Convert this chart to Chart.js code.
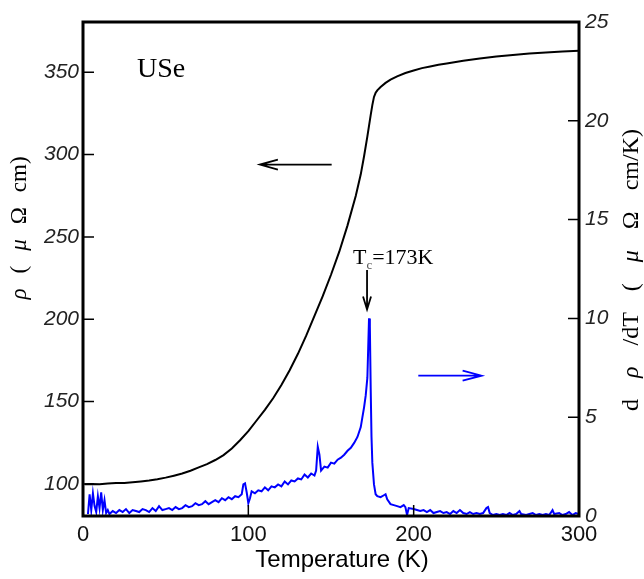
<!DOCTYPE html>
<html>
<head>
<meta charset="utf-8">
<title>USe resistivity</title>
<script src="https://cdn.jsdelivr.net/npm/chart.js@4.4.1/dist/chart.umd.min.js"></script>
<style>
  html, body { margin: 0; padding: 0; background: #fff; }
  #wrap { width: 644px; height: 579px; }
</style>
</head>
<body>
<div id="wrap"><canvas id="chart" width="644" height="579"></canvas></div>
<script>
// Resistivity rho(T), left axis (micro-ohm cm)
const rhoTemp = [1, 5, 10, 15, 20, 25, 30, 35, 40, 45, 50, 55, 60, 65, 70, 75, 80, 85, 90, 95,
  100, 105, 110, 115, 120, 125, 130, 135, 140, 145, 150, 155, 160, 165, 168, 170, 172, 174, 175, 176,
  177, 178, 180, 183, 186, 190, 195, 200, 205, 210, 215, 220, 230, 240, 250, 260, 270, 280, 290, 300];
const rhoValue = [99.8, 99.9, 99.8, 100.3, 100.5, 100.6, 101, 101.5, 102, 102.8, 103.8, 105, 106.3, 108, 110, 112, 114.5, 117.5, 121.5, 126.5,
  132, 138.5, 145, 152, 160, 169, 179, 190, 202, 214, 227, 241, 257, 275, 288, 299, 311, 324, 330, 335,
  337.5, 339, 341, 343.5, 345.5, 347.5, 349.5, 351, 352.5, 353.5, 354.5, 355.3, 357, 358.3, 359.5, 360.5, 361.3, 362, 362.6, 363];

// Derivative d rho / dT, right axis (micro-ohm cm / K)
const derivTemp = [3, 4, 5, 6, 7, 8, 9, 10, 11, 12, 13, 14, 15, 16, 18, 20, 22, 24, 26, 28,
  30, 32, 34, 36, 38, 40, 42, 44, 46, 48, 50, 52, 54, 56, 58, 60, 62, 64, 66, 68,
  70, 72, 74, 76, 78, 80, 82, 84, 86, 88, 90, 92, 94, 96, 97, 98, 99, 100, 101, 102,
  104, 106, 108, 110, 112, 114, 116, 118, 120, 122, 124, 126, 128, 130, 132, 134, 136, 138, 140, 141,
  142, 143, 144, 146, 148, 150, 152, 154, 156, 158, 160, 162, 164, 166, 168, 169, 170, 171, 172, 172.5,
  173, 173.5, 174, 174.5, 175, 176, 177, 178, 180, 182, 183, 184, 186, 188, 190, 192, 194, 195, 196, 197,
  200, 202, 204, 206, 208, 210, 212, 214, 216, 218, 220, 222, 224, 226, 228, 230, 232, 234, 236, 238,
  240, 242, 244, 245, 246, 248, 250, 252, 254, 256, 258, 260, 262, 264, 265, 268, 270, 272, 274, 276,
  278, 280, 282, 284, 285, 288, 290, 292, 294, 296, 298, 300];
const derivValue = [0.1, 1.1, 0.3, 1.15, 0.5, 0.2, 1.0, 0.4, 1.2, 0.3, 0.8, 0.15, 0.3, 0.1, 0.25, 0.15, 0.3, 0.2, 0.35, 0.15,
  0.3, 0.25, 0.2, 0.35, 0.3, 0.2, 0.4, 0.25, 0.5, 0.3, 0.35, 0.4, 0.3, 0.45, 0.35, 0.4, 0.55, 0.45, 0.5, 0.65,
  0.55, 0.6, 0.75, 0.6, 0.7, 0.8, 0.7, 0.9, 0.8, 0.95, 0.85, 1.0, 0.95, 1.1, 1.6, 1.65, 1.2, 0.65, 0.9, 1.25,
  1.15, 1.3, 1.25, 1.45, 1.3, 1.5, 1.45, 1.6, 1.5, 1.75, 1.6, 1.8, 1.75, 1.9, 1.85, 2.1, 1.95, 2.15, 2.05, 2.3,
  3.5, 3.1, 2.3, 2.5, 2.45, 2.7, 2.65, 2.85, 2.95, 3.1, 3.3, 3.45, 3.7, 4.0, 4.5, 5.0, 5.5, 6.1, 7.0, 8.5,
  10.0, 9.6, 6.5, 4.0, 2.7, 1.6, 1.1, 1.0, 0.95, 1.05, 1.1, 0.85, 0.6, 0.55, 0.5, 0.45, 0.55, 0.45, 0.05, 0.4,
  0.35, 0.3, 0.25, 0.3, 0.2, 0.3, 0.15, 0.2, 0.25, 0.15, 0.2, 0.1, 0.25, 0.15, 0.3, 0.15, 0.1, 0.2, 0.1, 0.15,
  0.1, 0.15, 0.4, 0.45, 0.15, 0.05, 0.1, 0.05, 0.1, 0.05, 0.15, 0.05, 0.1, 0.25, 0.1, 0.05, 0.1, 0.15, 0.05, 0.1,
  0.05, 0.1, 0.05, 0.3, 0.1, 0.15, 0.05, 0.1, 0.2, 0.05, 0.15, 0.1];

// Tick labels
const xTicks = [0, 100, 200, 300];
const leftTicks = [100, 150, 200, 250, 300, 350];
const rightTicks = [0, 5, 10, 15, 20, 25];

const serif = '"Liberation Serif", "DejaVu Serif", serif';
const sans = '"Liberation Sans", Arial, sans-serif';

// Arrow with an open V head, drawn in pixel space
function arrow(ctx, x1, y1, x2, y2, headLen, headHalf, color) {
  const ang = Math.atan2(y2 - y1, x2 - x1);
  const bx = x2 - headLen * Math.cos(ang);
  const by = y2 - headLen * Math.sin(ang);
  const nx = -Math.sin(ang) * headHalf;
  const ny = Math.cos(ang) * headHalf;
  ctx.save();
  ctx.strokeStyle = color;
  ctx.lineWidth = 1.8;
  ctx.beginPath();
  ctx.moveTo(x1, y1);
  ctx.lineTo(x2, y2);
  ctx.moveTo(bx + nx, by + ny);
  ctx.lineTo(x2, y2);
  ctx.lineTo(bx - nx, by - ny);
  ctx.stroke();
  ctx.restore();
}

// Rotated title made of pieces with wide gaps (greek letters italic)
function verticalTitle(ctx, cx, cy, parts, size, gap) {
  const fontOf = p => (p.it ? 'italic ' : '') + size + 'px ' + serif;
  let total = 0;
  parts.forEach((p, i) => {
    ctx.font = fontOf(p);
    total += ctx.measureText(p.t).width + (i ? gap : 0);
  });
  ctx.save();
  ctx.translate(cx, cy);
  ctx.rotate(-Math.PI / 2);
  ctx.textAlign = 'left';
  ctx.textBaseline = 'middle';
  let pos = -total / 2;
  parts.forEach(p => {
    ctx.font = fontOf(p);
    ctx.fillText(p.t, pos, 0);
    pos += ctx.measureText(p.t).width + gap;
  });
  ctx.restore();
}

// Frame, inward ticks, titles and annotations
const decorations = {
  id: 'decorations',
  afterDraw(chart) {
    const { ctx, chartArea: a, scales } = chart;
    const x = scales.x, yl = scales.y, yr = scales.y2;
    ctx.save();

    // inward ticks
    ctx.strokeStyle = '#000';
    ctx.lineWidth = 1.5;
    ctx.beginPath();
    xTicks.forEach(v => {
      const px = x.getPixelForValue(v);
      ctx.moveTo(px, a.bottom); ctx.lineTo(px, a.bottom - 11);
    });
    leftTicks.forEach(v => {
      const py = yl.getPixelForValue(v);
      ctx.moveTo(a.left, py); ctx.lineTo(a.left + 11, py);
    });
    rightTicks.forEach(v => {
      const py = yr.getPixelForValue(v);
      ctx.moveTo(a.right, py); ctx.lineTo(a.right - 11, py);
    });
    ctx.stroke();

    // frame
    ctx.lineWidth = 3;
    ctx.strokeRect(a.left, a.top, a.right - a.left, a.bottom - a.top);

    // axis titles
    ctx.fillStyle = '#000';
    ctx.textAlign = 'center';
    ctx.textBaseline = 'middle';
    ctx.font = '24px ' + sans;
    ctx.fillText('Temperature (K)', 342, 560);

    verticalTitle(ctx, 20, 228, [
      { t: 'ρ', it: true }, { t: '(' }, { t: 'μ', it: true }, { t: 'Ω' }, { t: 'cm)' }
    ], 23, 15);
    verticalTitle(ctx, 632, 270, [
      { t: 'd' }, { t: 'ρ', it: true }, { t: '/dT' }, { t: '(' }, { t: 'μ', it: true }, { t: 'Ω' }, { t: 'cm/K)' }
    ], 24, 21);

    // sample label
    ctx.textAlign = 'left';
    ctx.textBaseline = 'alphabetic';
    ctx.font = '28px ' + serif;
    ctx.fillText('USe', x.getPixelForValue(32.7), yl.getPixelForValue(347));

    // Tc label
    let tx = x.getPixelForValue(163.3);
    const ty = yr.getPixelForValue(12.75);
    ctx.font = '22px ' + serif;
    ctx.fillText('T', tx, ty);
    tx += ctx.measureText('T').width;
    ctx.font = '13px ' + serif;
    ctx.fillStyle = '#555';
    ctx.fillText('c', tx, ty + 5);
    tx += ctx.measureText('c').width;
    ctx.font = '22px ' + serif;
    ctx.fillStyle = '#000';
    ctx.fillText('=173K', tx, ty);

    // arrows
    arrow(ctx, x.getPixelForValue(150.4), yl.getPixelForValue(293.9),
      x.getPixelForValue(107), yl.getPixelForValue(293.9), 18, 5, '#000');
    arrow(ctx, x.getPixelForValue(202.8), yr.getPixelForValue(7.1),
      x.getPixelForValue(241.1), yr.getPixelForValue(7.1), 19, 5, '#0000ff');
    arrow(ctx, x.getPixelForValue(171.8), yr.getPixelForValue(12.45),
      x.getPixelForValue(171.8), yr.getPixelForValue(10.45), 13, 4, '#000');

    ctx.restore();
  }
};

const ctx = document.getElementById('chart').getContext('2d');
new Chart(ctx, {
  type: 'line',
  data: {
    datasets: [
      {
        label: 'rho',
        data: rhoTemp.map((t, i) => ({ x: t, y: rhoValue[i] })),
        yAxisID: 'y',
        borderColor: '#000',
        borderWidth: 2,
        pointRadius: 0,
        tension: 0
      },
      {
        label: 'drho/dT',
        data: derivTemp.map((t, i) => ({ x: t, y: derivValue[i] })),
        yAxisID: 'y2',
        borderColor: '#0000ff',
        borderWidth: 2,
        pointRadius: 0,
        tension: 0
      }
    ]
  },
  options: {
    responsive: false,
    animation: false,
    layout: { padding: { top: 22, left: 0, right: 0, bottom: 0 } },
    plugins: { legend: { display: false }, tooltip: { enabled: false } },
    scales: {
      x: {
        type: 'linear',
        min: 0,
        max: 300,
        afterBuildTicks: s => { s.ticks = xTicks.map(v => ({ value: v })); },
        afterFit: s => { s.height = 63; },
        grid: { display: false, drawTicks: false },
        border: { display: false },
        ticks: { color: '#111', padding: 6, font: { family: sans, size: 22 } }
      },
      y: {
        position: 'left',
        min: 80.5,
        max: 380.5,
        afterBuildTicks: s => { s.ticks = leftTicks.map(v => ({ value: v })); },
        afterFit: s => { s.width = 83; },
        grid: { display: false, drawTicks: false },
        border: { display: false },
        ticks: { color: '#222', padding: 4, font: { family: sans, size: 21, style: 'italic' } }
      },
      y2: {
        position: 'right',
        min: 0,
        max: 25,
        afterBuildTicks: s => { s.ticks = rightTicks.map(v => ({ value: v })); },
        afterFit: s => { s.width = 65; },
        grid: { display: false, drawTicks: false },
        border: { display: false },
        ticks: { color: '#222', padding: 6, font: { family: sans, size: 21, style: 'italic' } }
      }
    }
  },
  plugins: [decorations]
});
</script>
</body>
</html>
